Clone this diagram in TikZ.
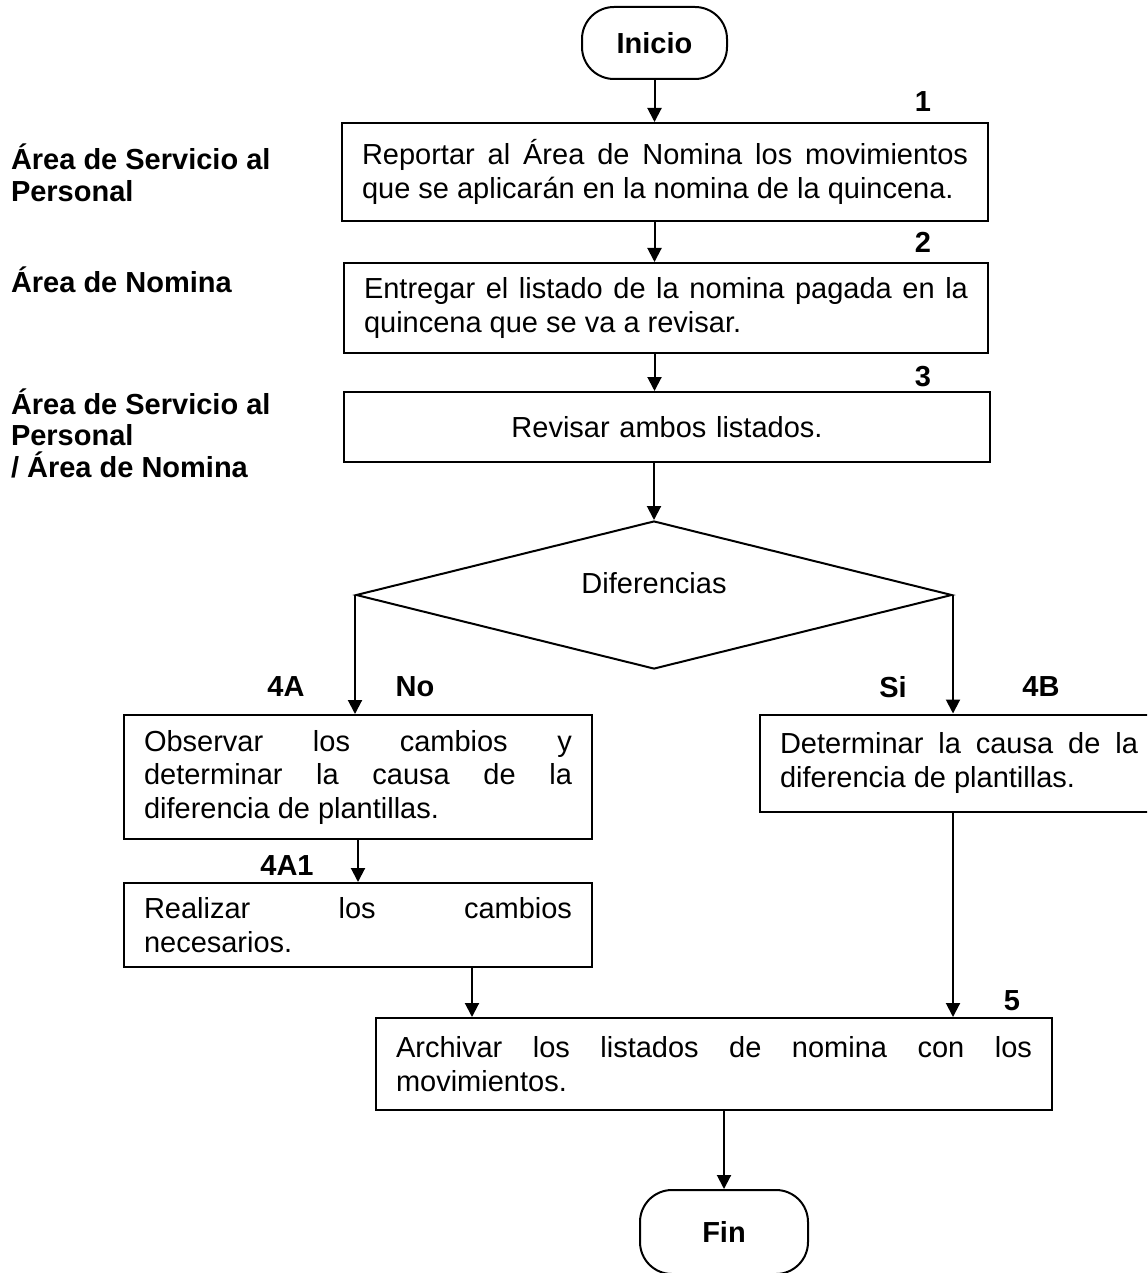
\documentclass[tikz,border=0pt]{standalone}
\usepackage{fontspec}
\setmainfont{Liberation Sans}
\usetikzlibrary{arrows.meta,shapes.geometric}
\tolerance=10000
\hbadness=10000
\hyphenpenalty=10000

\begin{document}
\begin{tikzpicture}[x=0.5pt, y=-0.5pt, line width=1pt, >={Triangle[length=7pt,width=7pt]},
	every node/.style={font=\fontsize{14.5}{16.75}\selectfont},
	proc/.style={draw, inner xsep=10pt, inner ysep=0pt, align=justify},
	term/.style={draw, rounded corners=16pt, font=\fontsize{14.5}{16.75}\selectfont\bfseries},
	decision/.style={draw, diamond, inner sep=0pt, minimum width=298pt, minimum height=74pt},
	num/.style={font=\fontsize{14.5}{16.75}\selectfont\bfseries},
	lane/.style={font=\fontsize{14.5}{15.75}\selectfont\bfseries, inner xsep=0pt, align=left, anchor=west}]
	\useasboundingbox (0,0) rectangle (1147,1273);
	\clip (0,0) rectangle (1147,1273);
	% areas
	\node[lane] (l1) at (10,173) {Área de Servicio al\\Personal};
	\node[lane] (l2) at (10,280) {Área de Nomina};
	\node[lane] (l3) at (10,433) {Área de Servicio al\\Personal\\/ Área de Nomina};
	% steps
	\node[term, minimum width=72.5pt, minimum height=36pt] (ini) at (654.5,43) {Inicio};
	\node[proc, text width=303pt, minimum height=49pt] (b1) at (665,172) {Reportar al Área de Nomina los movimientos\linebreak que se aplicarán en la nomina de la quincena.};
	\node[proc, text width=302pt, minimum height=45pt] (b2) at (666,308) {Entregar el listado de la nomina pagada en la\linebreak quincena que se va a revisar.};
	\node[proc, text width=303pt, minimum height=35pt, align=center] (b3) at (667,427) {Revisar ambos listados.};
	\node[decision, label={[yshift=6pt]center:Diferencias}] (dif) at (654,595) {};
	\node[proc, text width=214pt, minimum height=62pt] (b4a) at (358,777) {Observar los cambios y\linebreak determinar la causa de la\linebreak diferencia de plantillas.};
	\node[proc, text width=214pt, minimum height=42pt] (b4a1) at (358,925) {Realizar los cambios\linebreak necesarios.};
	\node[proc, text width=179pt, minimum height=48.5pt] (b4b) at (959,763) {Determinar la causa de la\linebreak diferencia de plantillas.};
	\node[proc, text width=318pt, minimum height=46pt] (b5) at (714,1064) {Archivar los listados de nomina con los\linebreak movimientos.};
	\node[term, minimum width=84pt, minimum height=42pt] (fin) at (724,1232) {Fin};
	% numbers
	\node[num] (n1) at (923,102) {1};
	\node[num] (n2) at (923,242) {2};
	\node[num] (n3) at (923,377) {3};
	\node[num] (n4a) at (286,687) {4A};
	\node[num] (no) at (415,687) {No};
	\node[num] (si) at (893,687) {Si};
	\node[num] (n4b) at (1041,687) {4B};
	\node[num] (n4a1) at (287,866) {4A1};
	\node[num] (n5) at (1012,1001) {5};
	% arrows
	\draw[->] (ini.south) -- (ini.south |- b1.north);
	\draw[->] (b1.south -| ini.south) -- (b2.north -| ini.south);
	\draw[->] (b2.south -| ini.south) -- (b3.north -| ini.south);
	\draw[->] (b3.south -| dif.north) -- (dif.north);
	\draw[->] (dif.west) -- (dif.west |- b4a.north);
	\draw[->] (dif.east) -- (dif.east |- b4b.north);
	\draw[->] (b4a.south) -- (b4a1.north);
	\draw[->] ([xshift=57pt]b4a1.south) -- ([xshift=57pt]b4a1.south |- b5.north);
	\draw[->] (b4b.south -| dif.east) -- (b5.north -| dif.east);
	\draw[->] (fin.north |- b5.south) -- (fin.north);
\end{tikzpicture}
\end{document}
